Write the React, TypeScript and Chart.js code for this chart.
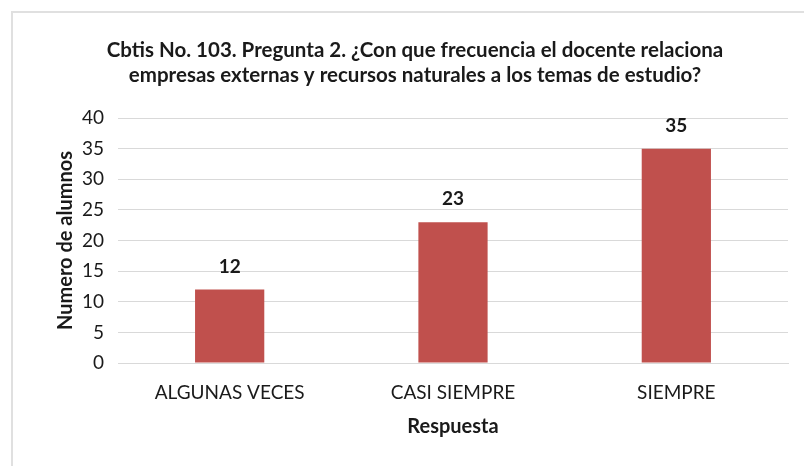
import React, { useEffect, useRef } from "react";
import { Chart, registerables } from "chart.js";

Chart.register(...registerables);

const categories = ["ALGUNAS VECES", "CASI SIEMPRE", "SIEMPRE"];
const values = [12, 23, 35];
const titleLines = [
  "Cbtis No. 103. Pregunta 2. ¿Con que frecuencia el docente relaciona",
  "empresas externas y recursos naturales a los temas de estudio?",
];
const yTitle = "Numero de alumnos";
const xTitle = "Respuesta";

const FONT = "Lato, 'Open Sans', sans-serif";
const TEXT = "#1a1a1a";

const dataLabels = {
  id: "dataLabels",
  afterDatasetsDraw(chart: any) {
    const ctx = chart.ctx;
    const meta = chart.getDatasetMeta(0);
    ctx.save();
    ctx.font = `bold 19px ${FONT}`;
    ctx.fillStyle = TEXT;
    ctx.textAlign = "center";
    ctx.textBaseline = "middle";
    meta.data.forEach((el: any, i: number) => {
      ctx.fillText(String(values[i]), el.x, el.y - 23);
    });
    ctx.restore();
  },
};

const titlePlugin = {
  id: "customTitle",
  afterDraw(chart: any) {
    const ctx = chart.ctx;
    ctx.save();
    ctx.font = `bold 20.5px ${FONT}`;
    ctx.fillStyle = TEXT;
    ctx.textAlign = "center";
    ctx.textBaseline = "middle";
    titleLines.forEach((line, i) => {
      ctx.fillText(line, 402, 37 + i * 25);
    });
    ctx.restore();
  },
};

export default function App() {
  const ref = useRef<HTMLCanvasElement>(null);
  useEffect(() => {
    if (!ref.current) return;
    const chart = new Chart(ref.current, {
      type: "bar",
      data: {
        labels: categories,
        datasets: [
          {
            data: values,
            backgroundColor: "#C0504D",
            categoryPercentage: 1,
            barPercentage: 0.31,
          },
        ],
      },
      options: {
        animation: false,
        responsive: true,
        maintainAspectRatio: false,
        layout: { padding: { left: 0, right: 16, top: 105, bottom: 0 } },
        plugins: {
          legend: { display: false },
          tooltip: { enabled: false },
          title: { display: false },
        },
        scales: {
          x: {
            grid: { display: false, drawTicks: false },
            border: { display: true, color: "#d9d9d9", width: 1 },
            ticks: {
              color: TEXT,
              font: { family: FONT, size: 19 },
              padding: 18,
              maxRotation: 0,
            },
            title: {
              display: true,
              text: xTitle,
              color: TEXT,
              font: { family: FONT, size: 20, weight: "bold" },
              padding: { top: 0, bottom: 27 },
            },
            afterFit(scale: any) {
              scale.height = 103;
            },
          },
          y: {
            min: 0,
            max: 40,
            ticks: {
              stepSize: 5,
              color: TEXT,
              font: { family: FONT, size: 19 },
              padding: 14,
            },
            grid: { color: "#d9d9d9", drawTicks: false },
            border: { display: false },
            title: {
              display: true,
              text: yTitle,
              color: TEXT,
              font: { family: FONT, size: 20, weight: "bold" },
              padding: { top: 41, bottom: 0 },
            },
            afterFit(scale: any) {
              scale.width = 105;
            },
          },
        },
      },
      plugins: [dataLabels, titlePlugin],
    });
    return () => chart.destroy();
  }, []);
  return (
    <div
      style={{
        position: "fixed",
        left: 11,
        top: 11,
        width: 793,
        height: 455,
        borderLeft: "2px solid #e0e0e0",
        borderTop: "2px solid #e0e0e0",
        background: "#fff",
      }}
    >
      <div style={{ position: "relative", width: 791, height: 453 }}>
        <canvas ref={ref} />
      </div>
    </div>
  );
}
